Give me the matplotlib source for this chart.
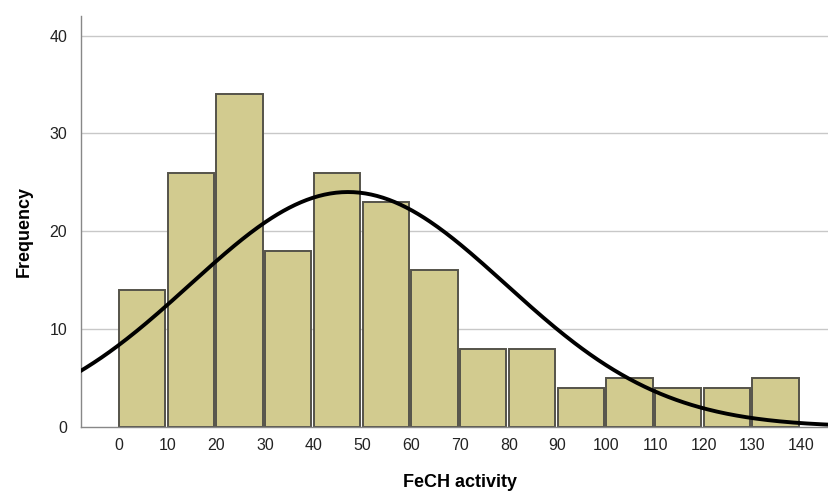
import numpy as np
import matplotlib.pyplot as plt

plt.rcParams['font.family'] = ['Liberation Sans', 'DejaVu Sans']

# histogram data (bin start, frequency)
bin_starts = [0, 10, 20, 30, 40, 50, 60, 70, 80, 90, 100, 110, 120, 130]
frequencies = [14, 26, 34, 18, 26, 23, 16, 8, 8, 4, 5, 4, 4, 5]
bin_width = 10
x_ticks = [0, 10, 20, 30, 40, 50, 60, 70, 80, 90, 100, 110, 120, 130, 140]
y_ticks = [0, 10, 20, 30, 40]

# fitted normal curve parameters
mean_val = 47.0
sd_val = 32.4
n_total = sum(frequencies)

fig = plt.figure(figsize=(8.29, 4.93), dpi=100)
ax = fig.add_axes([0.0977, 0.134, 0.9023, 0.8335])

for y in y_ticks[1:]:
    ax.axhline(y, color='#c8c8c8', lw=1.0, zorder=0)

ax.bar(bin_starts, frequencies, width=bin_width * 0.95, align='edge',
       color='#d2cb8f', edgecolor='#55534a', linewidth=1.4, zorder=2)

xs = np.linspace(-10, 150, 400)
ys = n_total * bin_width / (sd_val * np.sqrt(2 * np.pi)) * np.exp(-(xs - mean_val) ** 2 / (2 * sd_val ** 2))
ax.plot(xs, ys, color='black', lw=2.8, zorder=3, solid_capstyle='butt')

ax.set_xlim(-7.8, 145.7)
ax.set_ylim(0, 42)
ax.set_xticks(x_ticks)
ax.set_yticks(y_ticks)
ax.tick_params(length=0, labelsize=11.5, colors='#222222', pad=8)
ax.tick_params(axis='y', pad=10)
for s in ['top', 'right']:
    ax.spines[s].set_visible(False)
for s in ['left', 'bottom']:
    ax.spines[s].set_color('#888888')
    ax.spines[s].set_linewidth(1.0)

fig.text(0.555, 0.004, 'FeCH activity', ha='center', va='bottom',
         fontsize=13, fontweight='bold')
fig.text(0.029, 0.53, 'Frequency', ha='center', va='center', rotation=90,
         fontsize=13, fontweight='bold')

fig.savefig('out.png', dpi=100)
